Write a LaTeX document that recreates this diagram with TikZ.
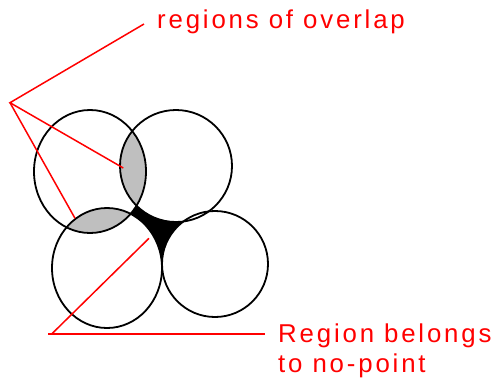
\documentclass[tikz,border=0pt]{standalone}
\usepackage{fontspec}
\setmainfont{Liberation Sans}
\begin{document}
\begin{tikzpicture}[x=1pt,y=-1pt,
  outline/.style={draw=black,line width=1.8pt},
  redline/.style={draw=red,line width=1.5pt},
  lbl/.style={text=red,font=\fontsize{25.8}{30}\selectfont\addfontfeatures{LetterSpace=11},inner sep=0pt,align=left}]
\useasboundingbox (0,0) rectangle (498,389);
% black hole between the four circles
\fill[black] (135,200) -- (128,215) -- (162,266) -- (192,218) -- cycle;
% white circles
\fill[white] (90,171.5) ellipse [x radius=56,y radius=61.5];
\fill[white] (176,166) circle [radius=56];
\fill[white] (107,268) ellipse [x radius=55,y radius=60];
\fill[white] (215,264) circle [radius=53];
% grey overlaps
\begin{scope}
  \clip (90,171.5) ellipse [x radius=56,y radius=61.5];
  \fill[black!25] (176,166) circle [radius=56];
  \fill[black!25] (107,268) ellipse [x radius=55,y radius=60];
\end{scope}
% outlines
\draw[outline] (90,171.5) ellipse [x radius=56,y radius=61.5];
\draw[outline] (176,166) circle [radius=56];
\draw[outline] (107,268) ellipse [x radius=55,y radius=60];
\draw[outline] (215,264) circle [radius=53];
% labels
\node[lbl,anchor=base west] (ov) at (157,28.3) {regions of overlap};
\node[lbl,anchor=north west,text depth=0pt] (np) at (278,323.3) {Region belongs\\to no-point};
% red connectors
\coordinate (t1) at (144,24);
\coordinate (v1) at (10,102.7);
\coordinate (e1) at (123.3,168);
\coordinate (e2) at (75,218.3);
\coordinate (h1) at (48.3,334);
\coordinate (h2) at (265,334);
\coordinate (d1) at (51.7,334);
\coordinate (d2) at (149,238.3);
\draw[redline] (t1) -- (v1) -- (e1);
\draw[redline] (v1) -- (e2);
\draw[redline] (h1) -- (h2);
\draw[redline] (d1) -- (d2);
\end{tikzpicture}
\end{document}
